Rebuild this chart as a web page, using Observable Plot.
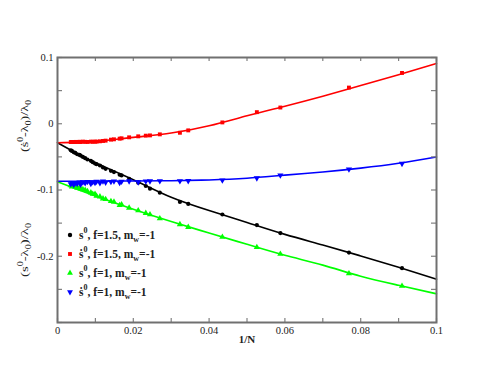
<!DOCTYPE html>
<html>
<head>
<meta charset="utf-8">
<script src="https://cdn.jsdelivr.net/npm/d3@7"></script>
<script src="https://cdn.jsdelivr.net/npm/@observablehq/plot@0.6"></script>
<style>
  html, body { margin: 0; padding: 0; background: #fff; }
  svg { font-family: "Liberation Serif", "DejaVu Serif", serif; }
</style>
</head>
<body>
<div id="chart"></div>
<script>
// ---- data ----
const invN = [0.0909, 0.0769, 0.0588, 0.0526, 0.0435, 0.0345, 0.0323, 0.0270, 0.0244,
  0.0233, 0.0213, 0.0189, 0.0169, 0.0164, 0.0149, 0.0141, 0.0127, 0.0120, 0.0112,
  0.0103, 0.0099, 0.0093, 0.0088, 0.0079, 0.0073, 0.0067, 0.0061, 0.0058, 0.0052,
  0.0047, 0.0043, 0.0038, 0.0035];

const sBlack = [-0.218, -0.1945, -0.165, -0.153, -0.137, -0.121, -0.118, -0.104, -0.098,
  -0.094, -0.089, -0.083, -0.078, -0.077, -0.073, -0.071, -0.068, -0.066, -0.063,
  -0.061, -0.060, -0.058, -0.056, -0.054, -0.052, -0.050, -0.048, -0.047, -0.046,
  -0.044, -0.043, -0.041, -0.040];

const sRed = [0.0767, 0.0546, 0.0245, 0.0175, 0.002, -0.010, -0.0136, -0.016, -0.0176,
  -0.018, -0.019, -0.0205, -0.022, -0.0225, -0.0235, -0.024, -0.0255, -0.026, -0.0265,
  -0.027, -0.027, -0.0272, -0.027, -0.0275, -0.0273, -0.027, -0.0275, -0.0272, -0.0275,
  -0.0274, -0.0276, -0.0275, -0.0276];

const sGreen = [-0.245, -0.226, -0.1966, -0.1865, -0.171, -0.156, -0.152, -0.143, -0.137,
  -0.135, -0.131, -0.127, -0.122, -0.123, -0.118, -0.117, -0.114, -0.113, -0.110,
  -0.109, -0.106, -0.106, -0.104, -0.102, -0.100, -0.099, -0.098, -0.096, -0.097,
  -0.095, -0.094, -0.095, -0.093];

const sBlue = [-0.0602, -0.0687, -0.0777, -0.082, -0.0853, -0.0862, -0.0863, -0.0863, -0.0866,
  -0.0868, -0.088, -0.0866, -0.0872, -0.089, -0.0868, -0.0875, -0.0885, -0.0868, -0.0895,
  -0.0872, -0.089, -0.0878, -0.0905, -0.0875, -0.0895, -0.088, -0.0915, -0.0885, -0.0905,
  -0.089, -0.092, -0.0895, -0.091];

// fitted curves
const fitX = [0, 0.005, 0.01, 0.02, 0.03, 0.04, 0.05, 0.06, 0.07, 0.08, 0.09, 0.1];
const fitBlack = [-0.0286, -0.0445, -0.059, -0.0845, -0.111, -0.131, -0.149, -0.167, -0.183, -0.1995, -0.2165, -0.2346];
const fitRed   = [-0.0286, -0.0281, -0.027, -0.0205, -0.014, -0.003, 0.012, 0.0265, 0.0415, 0.0576, 0.074, 0.0911];
const fitGreen = [-0.0875, -0.0985, -0.109, -0.129, -0.1476, -0.1649, -0.182, -0.1986, -0.2134, -0.2302, -0.2438, -0.2567];
const fitBlue  = [-0.0868, -0.0867, -0.0866, -0.0864, -0.086, -0.0848, -0.0822, -0.0775, -0.0728, -0.067, -0.0597, -0.0502];

const xTickLabels = [0, 0.02, 0.04, 0.06, 0.08, 0.1];
const yTickLabels = [0.1, 0, -0.1, -0.2];
const xTickMarks = [0, 0.01, 0.02, 0.03, 0.04, 0.05, 0.06, 0.07, 0.08, 0.09, 0.1];
const yTickMarks = [-0.3, -0.25, -0.2, -0.15, -0.1, -0.05, 0, 0.05, 0.1];

const seriesNames = ["s0 f=1.5", "sdot0 f=1.5", "s0 f=1", "sdot0 f=1"];
const seriesColors = ["#000000", "#ff0000", "#00ff00", "#0000ff"];

// ---- build tables ----
const pts = [];
const fits = [];
[sBlack, sRed, sGreen, sBlue].forEach((arr, k) => {
  arr.forEach((v, i) => pts.push({x: invN[i], y: v, s: seriesNames[k]}));
});
[fitBlack, fitRed, fitGreen, fitBlue].forEach((arr, k) => {
  arr.forEach((v, i) => fits.push({x: fitX[i], y: v, s: seriesNames[k]}));
});

const W = 491, H = 379;
const mL = 57, mR = 55, mT = 57, mB = 57;
const frameW = W - mL - mR, frameH = H - mT - mB;
const gray = "#808080";
const fmt = d => d === 0 ? "0" : String(d);
const serif = "'Liberation Serif', serif";

const svg = Plot.plot({
  width: W, height: H,
  marginLeft: mL, marginRight: mR, marginTop: mT, marginBottom: mB,
  style: {fontFamily: serif, background: "#fff"},
  x: {domain: [0, 0.1], label: null, axis: null},
  y: {domain: [-0.3, 0.1], label: null, axis: null},
  color: {domain: seriesNames, range: seriesColors},
  marks: [
    Plot.line(fits, {x: "x", y: "y", z: "s", stroke: "s", strokeWidth: 1.6, curve: "natural"}),
    Plot.dot(pts.filter(d => d.s === seriesNames[0]), {x: "x", y: "y", fill: "s", symbol: "circle", r: 2.1}),
    Plot.dot(pts.filter(d => d.s === seriesNames[1]), {x: "x", y: "y", fill: "s", symbol: "square", r: 2.2}),
    Plot.dot(pts.filter(d => d.s === seriesNames[2]), {x: "x", y: "y", fill: "s", symbol: "triangle", r: 2.3}),
    Plot.dot(pts.filter(d => d.s === seriesNames[3]), {x: "x", y: "y", fill: "s", symbol: "triangle", r: 2.3, rotate: 180}),
    // inward ticks on all four sides
    Plot.tickX(xTickMarks, {x: d => d, insetTop: frameH - 4, stroke: gray, strokeWidth: 1.2}),
    Plot.tickX(xTickMarks, {x: d => d, insetBottom: frameH - 4, stroke: gray, strokeWidth: 1.2}),
    Plot.tickY(yTickMarks, {y: d => d, insetRight: frameW - 5, stroke: gray, strokeWidth: 1.2}),
    Plot.tickY(yTickMarks, {y: d => d, insetLeft: frameW - 5, stroke: gray, strokeWidth: 1.2}),
    Plot.frame({stroke: "#707070", strokeWidth: 2}),
    Plot.axisX(xTickLabels, {anchor: "bottom", tickSize: 0, tickPadding: 4, tickFormat: fmt, fontSize: 10.5, fill: "#222", fontFamily: serif}),
    Plot.axisY(yTickLabels, {anchor: "left", tickSize: 0, tickPadding: 4, tickFormat: fmt, fontSize: 10.5, fill: "#222", fontFamily: serif}),
    Plot.text(["1/N"], {text: d => d, frameAnchor: "bottom", dy: 20, fontWeight: "bold", fontSize: 11, fill: "#222", fontFamily: serif})
  ]
});

// ---- rotated y labels and legend with sub/superscripts ----
const root = d3.select(svg);

function yLabel(dotted, bx, by, len) {
  const t = root.append("text")
    .attr("transform", `translate(${bx},${by}) rotate(-90)`)
    .attr("text-anchor", "start")
    .attr("font-size", 11)
    .attr("fill", "#222")
    .attr("font-family", serif)
    .attr("textLength", len)
    .attr("lengthAdjust", "spacingAndGlyphs");
  t.append("tspan").text(dotted ? "(ṡ" : "(s");
  t.append("tspan").attr("dy", -5).attr("font-size", 7.5).text("0");
  t.append("tspan").attr("dy", 5).text("-λ");
  t.append("tspan").attr("dy", 3).attr("font-size", 7.5).text("0");
  t.append("tspan").attr("dy", -3).text(")/λ");
  t.append("tspan").attr("dy", 3).attr("font-size", 7.5).text("0");
}
yLabel(true, 28, 152, 52);
yLabel(false, 28, 277, 54);

const legendItems = [
  {dot: false, f: "1.5", sym: d3.symbolCircle, rot: 0},
  {dot: true,  f: "1.5", sym: d3.symbolSquare, rot: 0},
  {dot: false, f: "1",   sym: d3.symbolTriangle, rot: 0},
  {dot: true,  f: "1",   sym: d3.symbolTriangle, rot: 180}
];
const lg = root.append("g").attr("text-anchor", "start");
legendItems.forEach((it, i) => {
  const y = 235 + i * 19;
  lg.append("path")
    .attr("d", d3.symbol(it.sym, 15)())
    .attr("transform", `translate(70,${y}) rotate(${it.rot})`)
    .attr("fill", seriesColors[i]);
  const t = lg.append("text")
    .attr("x", 79).attr("y", y + 4)
    .attr("text-anchor", "start")
    .attr("font-size", 11.5).attr("font-weight", "bold")
    .attr("fill", "#222")
    .attr("font-family", serif);
  t.append("tspan").text(it.dot ? "ṡ" : "s");
  t.append("tspan").attr("dy", -6).attr("font-size", 8).text("0");
  t.append("tspan").attr("dy", 6).text(`, f=${it.f}, m`);
  t.append("tspan").attr("dy", 3).attr("font-size", 8).text("w");
  t.append("tspan").attr("dy", -3).text("=-1");
});

document.getElementById("chart").appendChild(svg);
</script>
</body>
</html>
